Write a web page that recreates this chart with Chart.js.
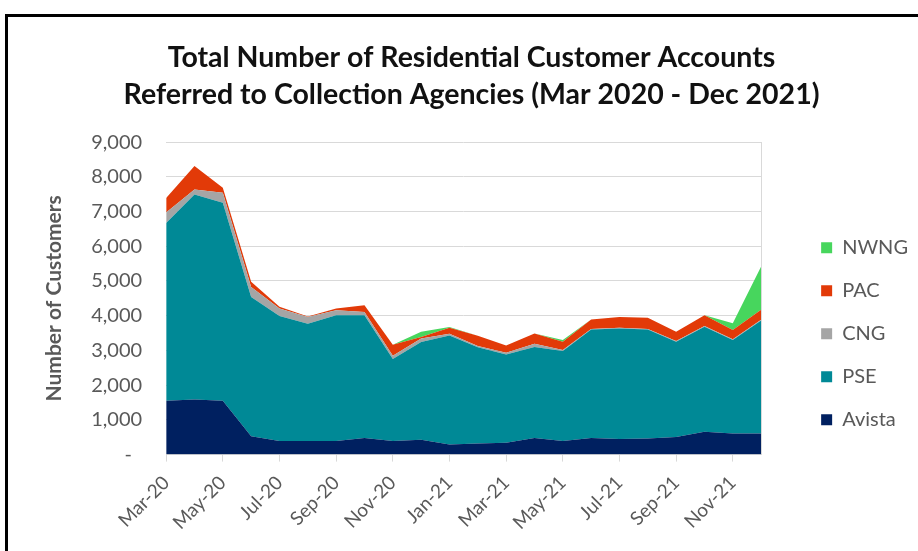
<!DOCTYPE html>
<html>
<head>
<meta charset="utf-8">
<title>Residential Customer Accounts Referred to Collection Agencies</title>
<script src="https://cdn.jsdelivr.net/npm/chart.js@4.4.0/dist/chart.umd.min.js"></script>
<style>
  html, body { margin: 0; padding: 0; background: #fff; overflow: hidden; }
  #wrap { position: relative; width: 918px; height: 551px; }
  #frame {
    position: absolute; left: 5px; top: 14px; width: 940px; height: 560px;
    border: 3px solid #000; pointer-events: none;
  }
</style>
</head>
<body>
<div id="wrap">
  <canvas id="areachart" width="918" height="551"></canvas>
  <div id="frame"></div>
</div>
<script>
// months Mar 2020 - Dec 2021
const months = [
  "Mar-20", "Apr-20", "May-20", "Jun-20", "Jul-20", "Aug-20", "Sep-20", "Oct-20",
  "Nov-20", "Dec-20", "Jan-21", "Feb-21", "Mar-21", "Apr-21", "May-21", "Jun-21",
  "Jul-21", "Aug-21", "Sep-21", "Oct-21", "Nov-21", "Dec-21",
];

// customers per utility (stacked, bottom to top)
const avista = [1550, 1590, 1550, 530, 390, 390, 390, 480, 390, 430, 290, 320, 340, 480, 390, 480, 450, 460, 510, 660, 610, 610];
const pse = [5120, 5900, 5700, 4010, 3600, 3380, 3620, 3530, 2360, 2810, 3140, 2770, 2540, 2620, 2590, 3120, 3180, 3140, 2740, 3020, 2690, 3250];
const cng = [300, 145, 290, 290, 215, 190, 145, 95, 95, 100, 50, 40, 50, 90, 30, 20, 20, 20, 20, 20, 20, 20];
const pac = [420, 675, 145, 145, 50, 20, 50, 195, 320, 50, 175, 290, 210, 300, 240, 270, 310, 320, 270, 310, 270, 290];
const nwng = [0, 0, 0, 0, 0, 0, 0, 0, 0, 145, 20, 0, 0, 0, 50, 0, 0, 0, 0, 0, 190, 1250];

const yTicks = [0, 1000, 2000, 3000, 4000, 5000, 6000, 7000, 8000, 9000];

const textGrey = "#595959";
const gridGrey = "#d9d9d9";

Chart.defaults.font.family = "Lato";
Chart.defaults.color = textGrey;

const ctx = document.getElementById("areachart");

function area(label, values, color, fill) {
  return {
    label: label,
    data: values,
    backgroundColor: color,
    borderColor: color,
    borderWidth: 0,
    pointRadius: 0,
    tension: 0,
    fill: fill,
  };
}

new Chart(ctx, {
  type: "line",
  data: {
    labels: months,
    datasets: [
      area("Avista", avista, "#002060", "origin"),
      area("PSE", pse, "#008996", "-1"),
      area("CNG", cng, "#a5a5a5", "-1"),
      area("PAC", pac, "#e23a08", "-1"),
      area("NWNG", nwng, "#47d65d", "-1"),
    ],
  },
  options: {
    responsive: false,
    animation: false,
    devicePixelRatio: 1,
    layout: {
      padding: { left: 25, right: 0, top: 0, bottom: 7 },
    },
    scales: {
      x: {
        offset: false,
        grid: {
          drawOnChartArea: false,
          tickLength: 7,
          color: gridGrey,
        },
        border: { color: gridGrey },
        ticks: {
          autoSkip: false,
          maxRotation: 45,
          minRotation: 45,
          padding: 10,
          font: { size: 19 },
          color: textGrey,
          // every second month gets a label and tick
          callback: (value, index) => (index % 2 === 0 ? months[index] : null),
        },
      },
      y: {
        stacked: true,
        min: 0,
        max: 9000,
        afterBuildTicks: (scale) => {
          scale.ticks = yTicks.map((v) => ({ value: v }));
        },
        grid: { color: gridGrey, drawTicks: false },
        border: { display: false },
        ticks: {
          padding: 24,
          font: { size: 20 },
          color: textGrey,
          callback: (value) => (value === 0 ? "-  " : value.toLocaleString("en-US")),
        },
        title: {
          display: true,
          text: "Number of Customers",
          color: textGrey,
          font: { size: 21, weight: "bold" },
          padding: { top: 17, bottom: 0 },
        },
      },
      // empty right axis: keeps a gap before the legend and draws the plot edge
      y2: {
        type: "linear",
        position: "right",
        grid: { drawOnChartArea: false, drawTicks: false },
        border: { color: gridGrey },
        ticks: { display: false },
        afterFit: (scale) => {
          scale.width = 37;
        },
      },
    },
    plugins: {
      title: {
        display: true,
        text: [
          "Total Number of Residential Customer Accounts",
          "Referred to Collection Agencies (Mar 2020 - Dec 2021)",
        ],
        color: "#111",
        font: { size: 28.5, weight: "bold", lineHeight: 1.3 },
        padding: { top: 39, bottom: 29 },
      },
      legend: {
        display: true,
        position: "right",
        reverse: true,
        title: {
          display: true,
          text: " ",
          font: { size: 12 },
          padding: { top: 0, bottom: 109 },
        },
        labels: {
          boxWidth: 11,
          boxHeight: 11,
          padding: 23,
          color: textGrey,
          font: { size: 20 },
        },
      },
      tooltip: { enabled: false },
    },
  },
});
</script>
</body>
</html>
